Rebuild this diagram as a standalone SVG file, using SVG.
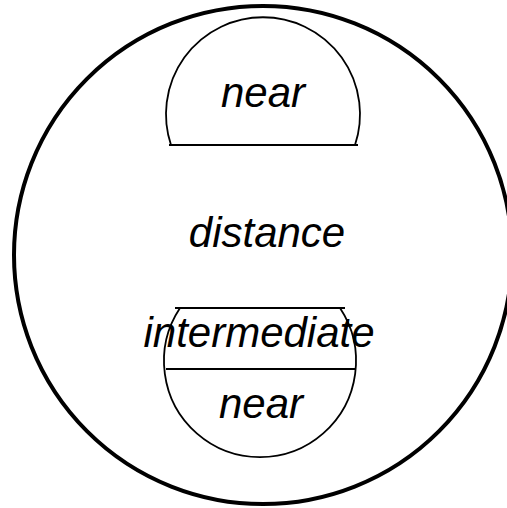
<svg xmlns="http://www.w3.org/2000/svg" width="507" height="508" viewBox="0 0 507 508">
<style>
.t{font-family:"Liberation Sans",Arial,sans-serif;font-style:italic;font-size:42px;fill:#000;text-anchor:middle}
.s{fill:none;stroke:#000;stroke-width:1.8}
</style>
<rect width="507" height="508" fill="#fff"/>
<g id="distance">
<circle cx="263" cy="255" r="249" fill="none" stroke="#000" stroke-width="4"/>
<text class="t" x="267" y="247">distance</text>
</g>
<g id="near-top">
<path class="s" d="M171,145 A97,97 0 1 1 355,145 M169,145 H358"/>
<text class="t" x="263" y="107">near</text>
</g>
<g id="intermediate-near">
<path class="s" d="M180,308 A96,96 0 1 0 340,308 M175,308 H345 M166,369 H355"/>
<text class="t" x="259" y="347">intermediate</text>
<text class="t" x="261" y="418">near</text>
</g>
<g id="connectors"/>
</svg>
